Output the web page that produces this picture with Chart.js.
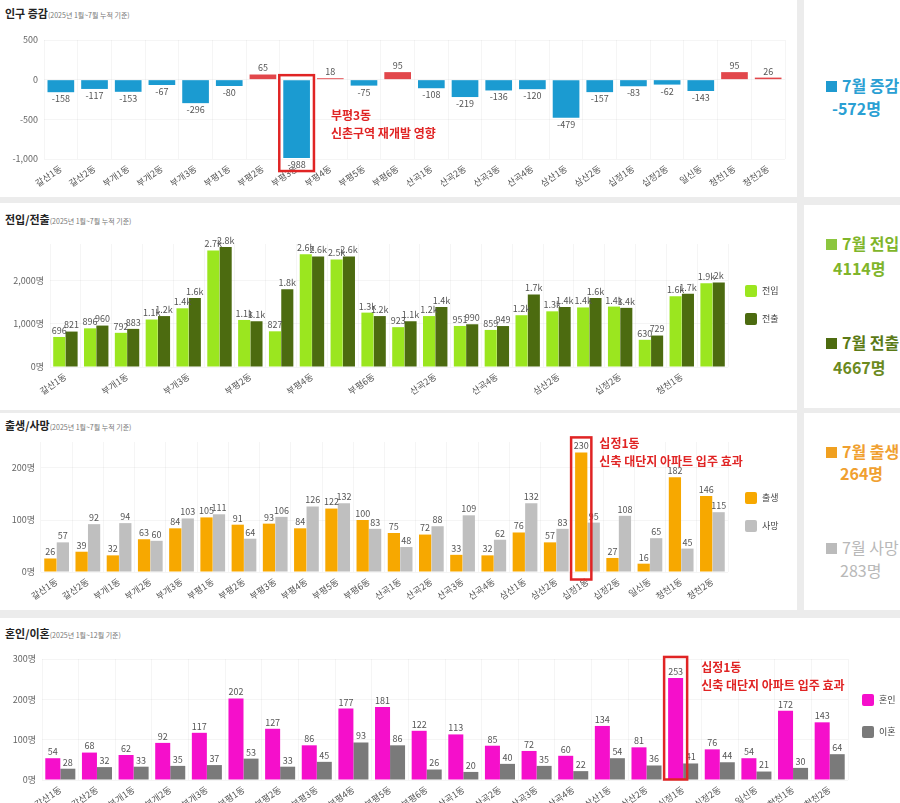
<!DOCTYPE html>
<html>
<head>
<meta charset="utf-8">
<script src="https://cdn.jsdelivr.net/npm/chart.js@4.4.1/dist/chart.umd.min.js"></script>
<style>
  body { margin:0; width:900px; height:803px; overflow:hidden; background:#ececec; position:relative;
         font-family:'Noto Sans CJK KR', sans-serif; }
  .panel { position:absolute; background:#fff; }
  .title { position:absolute; left:5px; font-size:11px; font-weight:bold; color:#222; white-space:nowrap; }
  .title small { font-size:7px; font-weight:normal; color:#777; }
  canvas { position:absolute; }
  .card { position:absolute; font-size:16px; font-weight:bold; white-space:nowrap; line-height:20px; }
  .card i { display:inline-block; width:11px; height:11px; margin-right:5px; vertical-align:0; }
</style>
</head>
<body>
<div class="panel" style="left:0;top:0;width:797px;height:197px"></div>
<div class="panel" style="left:804px;top:0;width:96px;height:197px"></div>
<div class="panel" style="left:0;top:203px;width:797px;height:207px"></div>
<div class="panel" style="left:804px;top:205px;width:96px;height:203px"></div>
<div class="panel" style="left:0;top:413px;width:797px;height:197px"></div>
<div class="panel" style="left:804px;top:413px;width:96px;height:197px"></div>
<div class="panel" style="left:0;top:618px;width:900px;height:185px"></div>

<div class="title" style="top:5px">인구 증감<small>(2025년 1월~7월 누적 기준)</small></div>
<div class="title" style="top:211px">전입/전출<small>(2025년 1월~7월 누적 기준)</small></div>
<div class="title" style="top:417px">출생/사망<small>(2025년 1월~7월 누적 기준)</small></div>
<div class="title" style="top:625px">혼인/이혼<small>(2025년 1월~12월 기준)</small></div>

<div class="card" style="left:826px;top:75px;color:#2a9fd3"><i style="background:#1f9ad0"></i>7월 증감</div>
<div class="card" style="left:832px;top:98px;color:#2a9fd3">-572명</div>
<div class="card" style="left:826px;top:233px;color:#7fb52a"><i style="background:#8cc63f"></i>7월 전입</div>
<div class="card" style="left:833px;top:258px;color:#7fb52a">4114명</div>
<div class="card" style="left:826px;top:332px;color:#5b7a16"><i style="background:#4d6b10"></i>7월 전출</div>
<div class="card" style="left:833px;top:357px;color:#6b8a1e">4667명</div>
<div class="card" style="left:826px;top:441px;color:#f0a030"><i style="background:#f0a020"></i>7월 출생</div>
<div class="card" style="left:840px;top:463px;color:#f0a030">264명</div>
<div class="card" style="left:826px;top:537px;color:#b8b8b8;font-weight:normal"><i style="background:#bbb"></i>7월 사망</div>
<div class="card" style="left:840px;top:560px;color:#b8b8b8;font-weight:normal">283명</div>

<canvas id="c1" width="795" height="172" style="left:0;top:25px"></canvas>
<canvas id="c2" width="797" height="182" style="left:0;top:228px"></canvas>
<canvas id="c3" width="797" height="180" style="left:0;top:430px"></canvas>
<canvas id="c4" width="900" height="175" style="left:0;top:645px"></canvas>

<script>
const dongs = ['갈산1동','갈산2동','부개1동','부개2동','부개3동','부평1동','부평2동','부평3동','부평4동','부평5동','부평6동',
               '산곡1동','산곡2동','산곡3동','산곡4동','삼산1동','삼산2동','십정1동','십정2동','일신동','청천1동','청천2동'];

// 인구 증감
const popChange = [-158,-117,-153,-67,-296,-80,65,-988,18,-75,95,-108,-219,-136,-120,-479,-157,-83,-62,-143,95,26];
const popTicks = [-1000, -500, 0, 500];
// 전입 / 전출
const moveIn  = [696,896,792,1100,1360,2700,1090,827,2610,2490,1260,923,1180,951,859,1200,1290,1380,1400,630,1640,1940];
const moveOut = [821,960,883,1180,1600,2780,1060,1800,2560,2560,1180,1060,1390,990,949,1680,1390,1600,1370,729,1700,1960];
const moveTicks = [0, 1000, 2000];
// 출생 / 사망
const births = [26,39,32,63,84,105,91,93,84,122,100,75,72,33,32,76,57,230,27,16,182,146];
const deaths = [57,92,94,60,103,111,64,106,126,132,83,48,88,109,62,132,83,95,108,65,45,115];
const birthTicks = [0, 100, 200];
// 혼인 / 이혼
const marriages = [54,68,62,92,117,202,127,86,177,181,122,113,85,72,60,134,81,253,76,54,172,143];
const divorces  = [28,32,33,35,37,53,33,45,93,86,26,20,40,35,22,54,36,41,44,21,30,64];
const marryTicks = [0, 100, 200, 300];

const FONT = "'Noto Sans CJK KR', sans-serif";
Chart.defaults.font.family = FONT;

function valueLabels(fmt) {
  return {
    id: 'valueLabels',
    afterDatasetsDraw(chart) {
      const ctx = chart.ctx;
      ctx.save();
      ctx.font = '9px ' + FONT;
      ctx.fillStyle = '#555';
      ctx.textAlign = 'center';
      chart.data.datasets.forEach((ds, i) => {
        chart.getDatasetMeta(i).data.forEach((bar, j) => {
          const v = ds.data[j];
          if (v < 0) { ctx.textBaseline = 'top'; ctx.fillText(fmt(v), bar.x, bar.y + 2); }
          else { ctx.textBaseline = 'bottom'; ctx.fillText(fmt(v), bar.x, bar.y - 2); }
        });
      });
      ctx.restore();
    }
  };
}

function highlight(dsIndex, index, padTop, padBottom, lines, dx, dy) {
  return {
    id: 'highlight',
    afterDatasetsDraw(chart) {
      const bar = chart.getDatasetMeta(dsIndex).data[index];
      const ctx = chart.ctx;
      const top = Math.min(bar.y, bar.base) - padTop;
      const bottom = Math.max(bar.y, bar.base) + padBottom;
      const left = bar.x - bar.width / 2 - 4;
      const right = bar.x + bar.width / 2 + 4;
      ctx.save();
      ctx.strokeStyle = '#e02424';
      ctx.lineWidth = 2.5;
      ctx.strokeRect(left, top, right - left, bottom - top);
      ctx.fillStyle = '#e02424';
      ctx.font = 'bold 12px ' + FONT;
      ctx.textAlign = 'left';
      ctx.textBaseline = 'middle';
      lines.forEach((t, k) => ctx.fillText(t, right + dx, top + dy + k * 18));
      ctx.restore();
    }
  };
}

// legend drawn beside the plot, from the datasets' own labels and colours
function sideLegend(dx, firstY, gap) {
  return {
    id: 'sideLegend',
    afterDraw(chart) {
      const ctx = chart.ctx, a = chart.chartArea;
      ctx.save();
      ctx.font = '9px ' + FONT;
      ctx.textBaseline = 'middle';
      ctx.textAlign = 'left';
      chart.data.datasets.forEach((ds, i) => {
        const x = a.right + dx, y = a.top + firstY + i * gap;
        ctx.fillStyle = ds.backgroundColor;
        ctx.beginPath();
        ctx.roundRect(x, y - 6, 12, 12, 2);
        ctx.fill();
        ctx.fillStyle = '#444';
        ctx.fillText(ds.label, x + 17, y);
      });
      ctx.restore();
    }
  };
}

function options(o) {
  return {
    responsive: false,
    animation: false,
    layout: { padding: o.padding },
    plugins: { legend: { display: false }, tooltip: { enabled: false } },
    scales: {
      x: {
        grid: { color: 'rgba(0,0,0,0.04)', drawTicks: false },
        border: { display: false },
        ticks: {
          autoSkip: false, minRotation: 35, maxRotation: 35, padding: 4,
          color: '#555', font: { size: 9 },
          callback: function (v, i) { return (o.skip && i % 2) ? '' : this.getLabelForValue(v); }
        },
        afterFit(s) { s.height = o.xh; }
      },
      y: {
        min: o.min, max: o.max,
        grid: { color: 'rgba(0,0,0,0.04)', drawTicks: false },
        border: { display: false },
        ticks: {
          autoSkip: false, padding: 6, color: '#666', font: { size: 9 },
          callback: v => v.toLocaleString('en-US') + o.unit
        },
        afterBuildTicks(s) { s.ticks = o.ticks.map(v => ({ value: v })); },
        afterFit(s) { s.width = o.yw; }
      }
    }
  };
}

const kfmt = v => v >= 1000 ? (Math.round(v / 100) / 10) + 'k' : String(v);

new Chart(document.getElementById('c1'), {
  type: 'bar',
  data: {
    labels: dongs,
    datasets: [{
      label: '인구 증감', data: popChange,
      backgroundColor: c => c.raw < 0 ? '#1b9bd1' : '#e2474b',
      categoryPercentage: 0.9, barPercentage: 0.88
    }]
  },
  options: options({ padding: { top: 15, right: 10, left: 0, bottom: 0 }, xh: 38, yw: 44,
                     min: -1000, max: 500, ticks: popTicks, unit: '' }),
  plugins: [valueLabels(v => String(v)),
            highlight(0, 7, 5, 13, ['부평3동', '신촌구역 재개발 영향'], 17, 40)]
});

new Chart(document.getElementById('c2'), {
  type: 'bar',
  data: {
    labels: dongs,
    datasets: [
      { label: '전입', data: moveIn, backgroundColor: '#9be61f', categoryPercentage: 0.8, barPercentage: 0.98 },
      { label: '전출', data: moveOut, backgroundColor: '#4c6b10', categoryPercentage: 0.8, barPercentage: 0.98 }
    ]
  },
  options: options({ padding: { top: 16, right: 69, left: 0, bottom: 0 }, xh: 43, yw: 50,
                     min: 0, max: 2850, ticks: moveTicks, unit: '명', skip: true }),
  plugins: [valueLabels(kfmt), sideLegend(17, 47, 28)]
});

new Chart(document.getElementById('c3'), {
  type: 'bar',
  data: {
    labels: dongs,
    datasets: [
      { label: '출생', data: births, backgroundColor: '#f7a800', categoryPercentage: 0.8, barPercentage: 0.98 },
      { label: '사망', data: deaths, backgroundColor: '#bfbfbf', categoryPercentage: 0.8, barPercentage: 0.98 }
    ]
  },
  options: options({ padding: { top: 12, right: 69, left: 0, bottom: 0 }, xh: 38, yw: 41,
                     min: 0, max: 250, ticks: birthTicks, unit: '명' }),
  plugins: [valueLabels(v => String(v)),
            highlight(0, 17, 15, 8, ['십정1동', '신축 대단지 아파트 입주 효과'], 8, 6),
            sideLegend(17, 56, 28)]
});

new Chart(document.getElementById('c4'), {
  type: 'bar',
  data: {
    labels: dongs,
    datasets: [
      { label: '혼인', data: marriages, backgroundColor: '#f50fcb', categoryPercentage: 0.82, barPercentage: 1 },
      { label: '이혼', data: divorces, backgroundColor: '#7a7a7a', categoryPercentage: 0.82, barPercentage: 1 }
    ]
  },
  options: options({ padding: { top: 14, right: 52, left: 0, bottom: 0 }, xh: 40, yw: 42,
                     min: 0, max: 300, ticks: marryTicks, unit: '명' }),
  plugins: [valueLabels(v => String(v)),
            highlight(0, 17, 21, 0, ['십정1동', '신축 대단지 아파트 입주 효과'], 14, 10),
            sideLegend(14, 41, 32)]
});
</script>
</body>
</html>
